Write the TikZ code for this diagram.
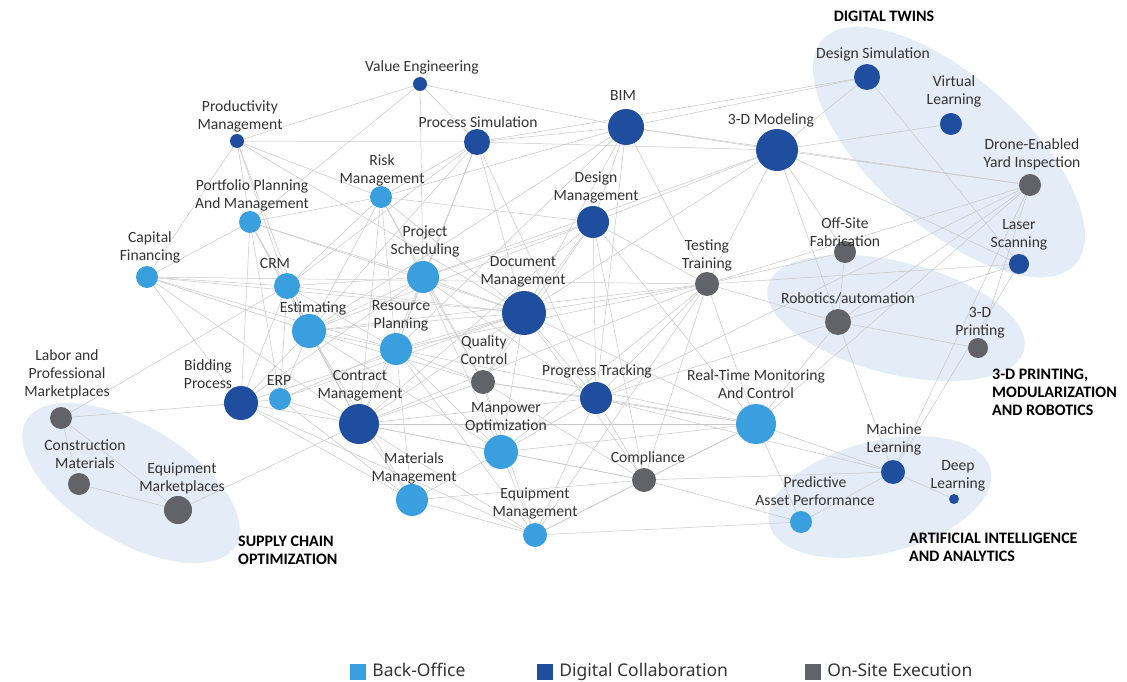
\documentclass[tikz,border=0pt]{standalone}
\usepackage{fontspec}
\setmainfont{Carlito}
\newfontfamily\legfont{Noto Sans}
\usetikzlibrary{positioning,backgrounds}
\definecolor{bureau}{HTML}{3A9FDE}
\definecolor{collab}{HTML}{1F4E9E}
\definecolor{chantier}{HTML}{616369}
\definecolor{zone}{HTML}{E4ECF7}
\definecolor{trait}{HTML}{C8C8C8}
\definecolor{texte}{HTML}{333333}

\begin{document}
\begin{tikzpicture}[x=1pt, y=-1pt, node distance=6pt]
\tikzset{noeud/.style={circle, inner sep=0pt, draw=none},
	etiquette/.style={align=center, text=texte, inner sep=0pt, font=\fontsize{15.6}{18}\selectfont},
	titre/.style={align=left, anchor=west, inner sep=0pt, font=\fontsize{16}{18}\selectfont\bfseries},
	lien/.style={draw=trait, line width=0.5pt},
	groupe/.style={fill=zone},
	carre/.style={rectangle, minimum size=16pt, inner sep=0pt},
	legende/.style={text=texte, inner sep=0pt, text height=12.5pt, text depth=3.5pt, font=\legfont\fontsize{17.5}{20}\selectfont}};

\useasboundingbox (0,0) rectangle (1127,682);

\foreach \name/\x/\y/\r/\col in {valeng/420/84/7/collab, prodman/237/141/7/collab, procsim/477/142/13/collab,
	bim/626/127/18/collab, model3d/777/150/21/collab, designsim/867/77/13/collab, virtlearn/951/124/11/collab,
	drone/1030/185/11/chantier, laser/1019/264/10/collab, offsite/845/252/11/chantier, robotics/838/322/13/chantier,
	print3d/978/348/10/chantier, testing/707/284/12/chantier, riskman/381/197/11/bureau, portfolio/250/222/11/bureau,
	capfin/147/277/11/bureau, crm/287/286/13/bureau, projsched/423/277/16/bureau, designman/593/222/16/collab,
	docman/524/313/22/collab, estimating/309/331/17/bureau, resplan/396/349/16/bureau, qualctrl/483/382/12/chantier,
	progtrack/596/398/16/collab, realtime/756/424/20/bureau, bidding/241/403/17/collab, erp/280/399/11/bureau,
	contract/359/424/20/collab, manpower/501/452/17/bureau, compliance/644/480/12/chantier, matman/412/500/16/bureau,
	equipman/535/535/12/bureau, machlearn/893/472/12/collab, deeplearn/954/499/5/collab, predictive/801/522/11/bureau,
	labor/61/418/11/chantier, constmat/79/484/11/chantier, equipmkt/178/510/14/chantier}{
	\node[noeud, fill=\col, minimum size=2*\r] (\name) at (\x, \y) {};
}

\foreach \name/\x/\y/\txt in {valeng/422/67/{Value Engineering}, prodman/240/116/{Productivity\\Management},
	procsim/478/122/{Process Simulation}, bim/623/95/{BIM}, model3d/771/120/{3-D Modeling},
	designsim/873/54/{Design Simulation}, virtlearn/954/91/{Virtual\\Learning}, drone/1032/154/{Drone-Enabled\\Yard Inspection},
	laser/1019/235/{Laser\\Scanning}, offsite/845/232/{Off-Site\\Fabrication}, robotics/848/298/{Robotics/automation},
	print3d/980/323/{3-D\\Printing}, testing/707/255/{Testing\\Training}, riskman/382/170/{Risk\\Management},
	portfolio/252/195/{Portfolio Planning\\And Management}, capfin/150/247/{Capital\\Financing}, crm/275/263/{CRM},
	projsched/425/241/{Project\\Scheduling}, designman/596/187/{Design\\Management}, docman/523/272/{Document\\Management},
	estimating/313/308/{Estimating}, resplan/401/316/{Resource\\Planning}, qualctrl/484/350/{Quality\\Control},
	progtrack/597/371/{Progress Tracking}, realtime/756/384/{Real-Time Monitoring\\And Control},
	bidding/208/374/{Bidding\\Process}, erp/279/380/{ERP}, contract/360/386/{Contract\\Management},
	manpower/506/418/{Manpower\\Optimization}, compliance/648/458/{Compliance}, matman/414/468/{Materials\\Management},
	equipman/535/503/{Equipment\\Management}, machlearn/894/439/{Machine\\Learning}, deeplearn/958/476/{Deep\\Learning},
	predictive/815/491/{Predictive\\Asset Performance}, labor/67/374/{Labor and\\Professional\\Marketplaces},
	constmat/85/454/{Construction\\Materials}, equipmkt/182/478/{Equipment\\Marketplaces}}{
	\node[etiquette] (t-\name) at (\x, \y) {\txt};
}

\begin{scope}[on background layer]
	\fill[groupe] (949,152) circle [x radius=169pt, y radius=75pt, rotate=-41.5];
	\fill[groupe] (896,318) circle [x radius=132pt, y radius=56pt, rotate=-14];
	\fill[groupe] (880,497) circle [x radius=114pt, y radius=56pt, rotate=14];
	\fill[groupe] (131,483) circle [x radius=122pt, y radius=58pt, rotate=-31];
\end{scope}

\begin{scope}[on background layer]
\foreach \a/\b in {valeng/prodman, valeng/procsim, valeng/bim, valeng/projsched, valeng/portfolio,
	prodman/procsim, prodman/capfin, prodman/portfolio, prodman/crm, prodman/estimating, prodman/riskman, prodman/docman,
	procsim/bim, procsim/model3d, procsim/riskman, procsim/projsched, procsim/docman, procsim/resplan, procsim/estimating,
	procsim/progtrack, procsim/designsim, procsim/crm,
	bim/designsim, bim/model3d, bim/designman, bim/docman, bim/testing, bim/riskman, bim/estimating, bim/progtrack,
	bim/drone, bim/resplan,
	model3d/designsim, model3d/virtlearn, model3d/drone, model3d/laser, model3d/robotics, model3d/testing,
	model3d/designman, model3d/docman, model3d/projsched, designsim/laser,
	drone/robotics, drone/realtime, drone/testing, drone/progtrack, drone/print3d, drone/machlearn,
	laser/testing, laser/machlearn, laser/robotics, offsite/testing, offsite/robotics, offsite/model3d,
	robotics/testing, robotics/print3d, robotics/machlearn, robotics/realtime, robotics/progtrack,
	testing/realtime, testing/compliance, testing/progtrack, testing/docman, testing/designman, testing/estimating,
	testing/contract, testing/manpower, testing/equipman, testing/resplan, testing/capfin,
	realtime/machlearn, realtime/predictive, realtime/compliance, realtime/progtrack, realtime/docman, realtime/contract,
	realtime/resplan, realtime/equipman, realtime/manpower, realtime/qualctrl,
	machlearn/deeplearn, machlearn/predictive, machlearn/compliance, machlearn/progtrack,
	predictive/equipman, predictive/compliance,
	compliance/progtrack, compliance/equipman, compliance/manpower, compliance/matman, compliance/contract,
	compliance/docman, compliance/qualctrl,
	equipman/matman, equipman/manpower, equipman/contract, equipman/progtrack, equipman/qualctrl, equipman/bidding,
	matman/contract, matman/manpower, matman/bidding, matman/resplan, matman/erp,
	manpower/resplan, manpower/contract, manpower/docman, manpower/projsched, manpower/progtrack,
	labor/crm, labor/bidding, labor/constmat, labor/equipmkt, constmat/equipmkt, equipmkt/contract,
	capfin/crm, capfin/bidding, capfin/contract, capfin/docman, capfin/estimating, capfin/portfolio, capfin/resplan,
	portfolio/riskman, portfolio/crm, portfolio/estimating, portfolio/bidding, portfolio/docman, portfolio/projsched,
	portfolio/contract, portfolio/erp,
	riskman/projsched, riskman/estimating, riskman/crm, riskman/resplan, riskman/docman, riskman/contract,
	riskman/qualctrl, riskman/designman,
	crm/estimating, crm/bidding, crm/erp, crm/docman, crm/projsched, crm/contract, crm/resplan,
	estimating/bidding, estimating/erp, estimating/contract, estimating/resplan, estimating/projsched, estimating/docman,
	estimating/designman, estimating/qualctrl, estimating/manpower, estimating/matman,
	projsched/resplan, projsched/docman, projsched/designman, projsched/contract, projsched/progtrack,
	projsched/qualctrl, projsched/bidding,
	resplan/contract, resplan/docman, resplan/qualctrl, resplan/erp, resplan/equipman,
	docman/designman, docman/qualctrl, docman/progtrack, docman/contract, docman/erp, docman/bidding,
	designman/progtrack, designman/qualctrl, designman/realtime, designman/contract, designman/compliance,
	qualctrl/contract, qualctrl/progtrack, qualctrl/manpower,
	bidding/erp, bidding/contract, erp/contract, contract/progtrack}{
	\draw[lien] (\a) -- (\b);
}
\end{scope}

\node[titre, anchor=center] (g-twins) at (884,16) {DIGITAL TWINS};
\node[titre] (g-print) at (992,392) {3-D PRINTING,\\MODULARIZATION\\AND ROBOTICS};
\node[titre] (g-ai) at (909,547) {ARTIFICIAL INTELLIGENCE\\AND ANALYTICS};
\node[titre] (g-supply) at (238,550) {SUPPLY CHAIN\\OPTIMIZATION};

\node[carre, fill=bureau] (k-back) at (358,672) {};
\node[legende, right=of k-back] (kt-back) {Back-Office};
\node[carre, fill=collab] (k-collab) at (545,672) {};
\node[legende, right=of k-collab] (kt-collab) {Digital Collaboration};
\node[carre, fill=chantier] (k-site) at (813,672) {};
\node[legende, right=of k-site] (kt-site) {On-Site Execution};

\end{tikzpicture}
\end{document}
